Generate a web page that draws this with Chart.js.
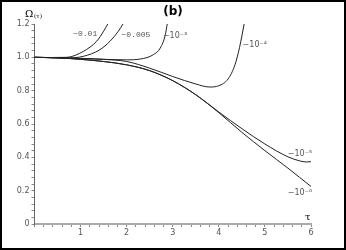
<!DOCTYPE html>
<html>
<head>
<meta charset="utf-8">
<script src="https://cdn.jsdelivr.net/npm/chart.js@4/dist/chart.umd.min.js"></script>
<style>
  body { margin: 0; background: #fff; }
  canvas { display: block; }
</style>
</head>
<body>
<canvas id="omega" width="346" height="250"></canvas>
<script>
// Values (tau, Omega)
var tauBase = [0, 0.5, 1, 1.5, 2, 2.5, 3, 3.5, 4, 4.5, 5, 5.5, 6];
var omegaM6 = [1.0, 0.997, 0.988, 0.975, 0.955, 0.92, 0.86, 0.775, 0.668, 0.55, 0.44, 0.335, 0.225];

var tauM5 = [0, 0.5, 1, 1.5, 2, 2.5, 3, 3.5, 4, 4.5, 5, 5.5, 5.75, 5.9, 6];
var omegaM5 = [1.0, 0.997, 0.988, 0.975, 0.955, 0.92, 0.86, 0.776, 0.672, 0.572, 0.48, 0.403, 0.379, 0.372, 0.374];

var tauM4 = [0, 0.5, 1, 1.5, 2, 2.5, 3, 3.5, 3.8, 4.0, 4.2, 4.35, 4.45, 4.55];
var omegaM4 = [1.0, 0.998, 0.994, 0.988, 0.975, 0.935, 0.885, 0.84, 0.822, 0.83, 0.87, 0.955, 1.06, 1.2];

var tauM3 = [0, 0.5, 1, 1.5, 2, 2.3, 2.58, 2.73, 2.84, 2.88];
var omegaM3 = [1.0, 0.997, 0.993, 0.988, 0.985, 0.99, 1.016, 1.056, 1.137, 1.2];

var tauM005 = [0, 0.35, 0.7, 1.06, 1.42, 1.64, 1.82, 1.92];
var omegaM005 = [1.0, 0.998, 0.996, 1.006, 1.046, 1.097, 1.157, 1.2];

var tauM01 = [0, 0.35, 0.7, 1.06, 1.35, 1.5, 1.59];
var omegaM01 = [1.0, 0.999, 1.0, 1.036, 1.097, 1.157, 1.2];

// curve labels: text, tau, omega
var curveLabels = [
  ["\u22120.01", 1.1, 1.14, "mono"],
  ["\u22120.005", 2.2, 1.133, "mono"],
  ["\u221210\u207B\u00B3", 3.05, 1.13, "sans"],
  ["\u221210\u207B\u2074", 4.78, 1.076, "sans"],
  ["\u221210\u207B\u2075", 5.76, 0.42, "sans"],
  ["\u221210\u207B\u2076", 5.76, 0.188, "sans"]
];

function pts(xs, ys) {
  return xs.map(function (x, i) { return { x: x, y: ys[i] }; });
}

function curve(xs, ys) {
  return {
    data: pts(xs, ys),
    borderColor: "#222",
    borderWidth: 1,
    pointRadius: 0,
    cubicInterpolationMode: "monotone",
    fill: false
  };
}

var isStep = function (v, n) { return Math.abs(v * n - Math.round(v * n)) < 1e-6; };

// Text drawn on top: title, axis names, curve labels, frame
var textPlugin = {
  id: "texts",
  afterDraw: function (chart) {
    var c = chart.ctx;
    var xs = chart.scales.x, ys = chart.scales.y;
    c.save();
    c.fillStyle = "#000";
    c.font = "bold 12px 'DejaVu Sans'";
    c.textAlign = "center";
    c.textBaseline = "middle";
    c.fillText("(b)", 173, 12);

    c.font = "10px 'DejaVu Serif'";
    c.textAlign = "left";
    c.fillText("\u03A9", 25, 14);
    c.font = "6px 'DejaVu Serif'";
    c.fillText("(\u03C4)", 34, 16);
    c.font = "10px 'DejaVu Serif'";
    c.fillText("\u03C4", 305, 217);

    c.fillStyle = "#555";
    c.textAlign = "center";
    curveLabels.forEach(function (l) {
      c.font = l[3] == "mono" ? "8px 'Liberation Mono'" : "8px 'DejaVu Sans'";
      c.fillText(l[0], xs.getPixelForValue(l[1]), ys.getPixelForValue(l[2]));
    });

    c.strokeStyle = "#000";
    c.lineWidth = 2;
    c.strokeRect(1, 1, 344, 248);
    c.restore();
  }
};

var ctx = document.getElementById("omega");
var chart = new Chart(ctx, {
  type: "line",
  data: {
    datasets: [
      curve(tauBase, omegaM6),
      curve(tauM5, omegaM5),
      curve(tauM4, omegaM4),
      curve(tauM3, omegaM3),
      curve(tauM005, omegaM005),
      curve(tauM01, omegaM01)
    ]
  },
  options: {
    responsive: false,
    animation: false,
    layout: { padding: { left: 0, top: 24, right: 35, bottom: 0 } },
    plugins: {
      legend: { display: false },
      tooltip: { enabled: false }
    },
    scales: {
      x: {
        type: "linear",
        min: 0,
        max: 6,
        afterFit: function (s) { s.height = 26; },
        border: { display: true, color: "#aaa", width: 2 },
        grid: { drawOnChartArea: false, tickLength: 3, tickColor: "#888" },
        ticks: {
          stepSize: 0.2,
          autoSkip: false,
          maxRotation: 0,
          padding: 1,
          color: "#555",
          font: { size: 8, family: "DejaVu Sans" },
          callback: function (v) {
            return isStep(v, 1) && Math.round(v) != 0 ? String(Math.round(v)) : "";
          }
        }
      },
      y: {
        type: "linear",
        min: 0,
        max: 1.2,
        afterFit: function (s) { s.width = 34.5; },
        border: { display: true, color: "#666", width: 1 },
        grid: { drawOnChartArea: false, tickLength: 3, tickColor: "#888" },
        ticks: {
          stepSize: 0.04,
          autoSkip: false,
          padding: 2,
          color: "#555",
          font: { size: 8, family: "DejaVu Sans" },
          callback: function (v) {
            if (!isStep(v, 5)) return "";
            if (Math.abs(v) < 1e-6) return "0";
            return v.toFixed(1);
          }
        }
      }
    }
  },
  plugins: [textPlugin]
});
</script>
</body>
</html>
